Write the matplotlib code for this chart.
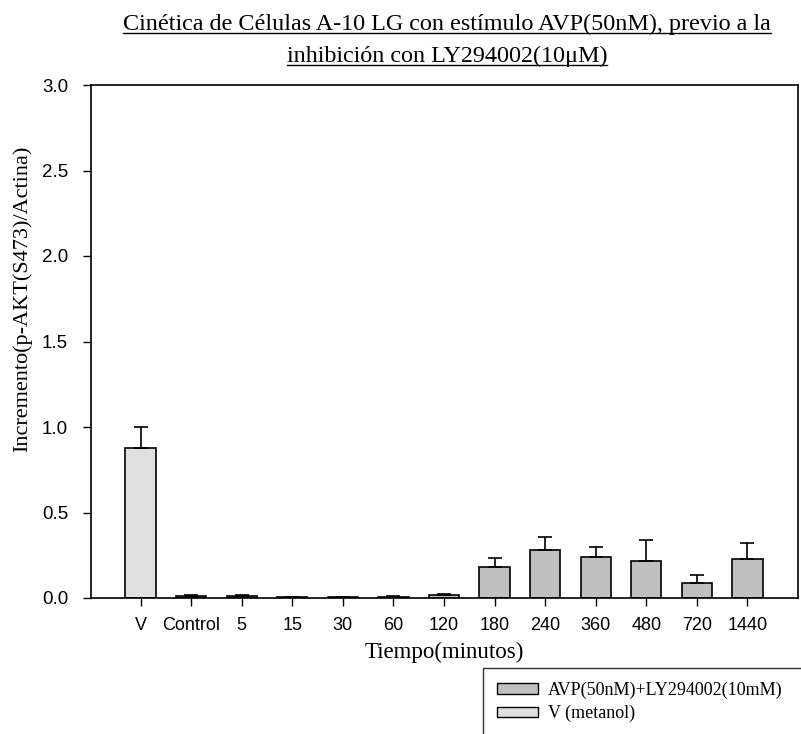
import matplotlib
matplotlib.use('Agg')
import matplotlib.pyplot as plt
from matplotlib.patches import Patch
from matplotlib.lines import Line2D

# Data
categories = ['V', 'Control', '5', '15', '30', '60', '120', '180', '240', '360', '480', '720', '1440']
values = [0.88, 0.010, 0.010, 0.005, 0.005, 0.008, 0.015, 0.182, 0.282, 0.241, 0.217, 0.085, 0.229]
errors = [0.118, 0.006, 0.006, 0.003, 0.003, 0.005, 0.010, 0.053, 0.076, 0.059, 0.120, 0.048, 0.094]
yticks = [0.0, 0.5, 1.0, 1.5, 2.0, 2.5, 3.0]

title_lines = ['Cinética de Células A-10 LG con estímulo AVP(50nM), previo a la',
               'inhibición con LY294002(10μM)']
legend_labels = ['AVP(50nM)+LY294002(10mM)', 'V (metanol)']

serif = 'Liberation Serif'
sans = 'Liberation Sans'
col_v = '#e0e0e0'
col_avp = '#c0c0c0'

fig = plt.figure(figsize=(8.01, 7.34), dpi=100)
W, H = 801, 734
ax = fig.add_axes([91 / W, 1 - 598 / H, (798 - 91) / W, (598 - 85) / H])

x = list(range(len(categories)))
colors = [col_v] + [col_avp] * (len(categories) - 1)
ax.bar(x, values, width=0.6, color=colors, edgecolor='black', linewidth=1.2,
       yerr=[[0] * len(errors), errors], capsize=5,
       error_kw=dict(ecolor='black', elinewidth=1.2, capthick=1.2), zorder=2)

ax.set_xlim(-0.98, 13.0)
ax.set_ylim(0, 3.0)
ax.set_yticks(yticks)
ax.set_yticklabels([f'{t:.1f}' for t in yticks], fontfamily=sans, fontsize=13.5)
ax.set_xticks(x)
ax.set_xticklabels(categories, fontfamily=sans, fontsize=13)
ax.tick_params(direction='out', length=6, width=1)
ax.tick_params(axis='x', pad=8)
ax.tick_params(axis='y', pad=10.5)
for s in ax.spines.values():
    s.set_linewidth(1.2)

ax.set_xlabel('Tiempo(minutos)', fontfamily=serif, fontsize=16.5)
ax.xaxis.set_label_coords(0.5, (598 - 658) / 513)
ax.xaxis.label.set_verticalalignment('baseline')
ax.set_ylabel('Incremento(p-AKT(S473)/Actina)', fontfamily=serif, fontsize=16)
ax.yaxis.set_label_coords((22 - 91) / 707, (598 - 298.5) / 513)
ax.yaxis.label.set_verticalalignment('center')

# Underlined two-line title
fig.canvas.draw()
renderer = fig.canvas.get_renderer()
for i, line in enumerate(title_lines):
    base = 30 + 32 * i
    t = fig.text(447 / W, 1 - base / H, line, ha='center', va='baseline',
                 fontfamily=serif, fontsize=17.4)
    bb = t.get_window_extent(renderer=renderer).transformed(fig.transFigure.inverted())
    uy = 1 - (base + 3) / H
    fig.add_artist(Line2D([bb.x0, bb.x1], [uy, uy], color='black', linewidth=1.0,
                          transform=fig.transFigure))

handles = [Patch(facecolor=col_avp, edgecolor='black', linewidth=1.0),
           Patch(facecolor=col_v, edgecolor='black', linewidth=1.0)]
leg = fig.legend(handles, legend_labels, loc='upper left', mode='expand',
                 bbox_to_anchor=(483 / W, 0, (830 - 483) / W, 1 - 668 / H),
                 prop={'family': serif, 'size': 13}, frameon=True, fancybox=False,
                 borderaxespad=0, handlelength=2.3, handleheight=0.5,
                 handletextpad=0.55, labelspacing=0.35, borderpad=0.75)
leg.get_frame().set_edgecolor('black')
leg.get_frame().set_linewidth(1.0)

fig.savefig('out.png', dpi=100)
